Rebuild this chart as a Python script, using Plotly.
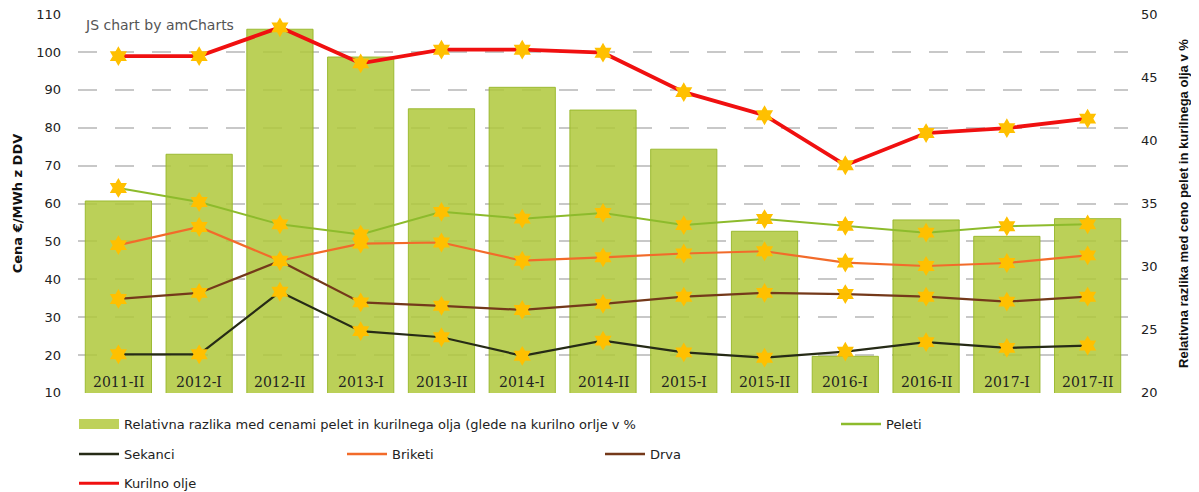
import plotly.graph_objects as go

categories = ["2011-II", "2012-I", "2012-II", "2013-I", "2013-II", "2014-I", "2014-II",
              "2015-I", "2015-II", "2016-I", "2016-II", "2017-I", "2017-II"]

relativna_razlika = [35.2, 38.9, 48.8, 46.6, 42.5, 44.2, 42.4, 39.3, 32.8, 22.9, 33.7, 32.4, 33.8]
peleti = [64.1, 60.4, 54.5, 51.8, 57.8, 56.0, 57.5, 54.3, 55.9, 54.1, 52.3, 54.0, 54.5]
sekanci = [20.2, 20.2, 36.7, 26.3, 24.7, 19.8, 23.8, 20.7, 19.3, 20.9, 23.4, 21.9, 22.5]
briketi = [49.0, 53.8, 44.9, 49.4, 49.7, 44.9, 45.8, 46.8, 47.4, 44.4, 43.5, 44.3, 46.3]
drva = [34.8, 36.4, 44.8, 33.9, 33.0, 31.9, 33.5, 35.4, 36.4, 36.1, 35.4, 34.1, 35.4]
kurilno_olje = [98.9, 98.9, 106.5, 97.0, 100.6, 100.6, 99.8, 89.4, 83.3, 70.1, 78.6, 79.9, 82.4]

left_ticks = list(range(10, 111, 10))
right_ticks = list(range(20, 51, 5))

BAR_NAME = "Relativna razlika med cenami pelet in kurilnega olja (glede na kurilno orlje v %"

# page body has an 8px default margin, so the figure is 8px smaller than the window
W, H = 1191, 484
STAR = "#FFC000"
BAR_FILL = "rgba(176,200,60,0.86)"

fig = go.Figure()

fig.add_trace(go.Bar(
    x=categories, y=relativna_razlika, yaxis="y", name=BAR_NAME, showlegend=False,
    marker=dict(color=BAR_FILL, line=dict(color="rgba(150,182,40,0.9)", width=1)),
))

line_series = [
    ("Peleti", peleti, "#8DBB2C", 2, "legend2"),
    ("Sekanci", sekanci, "#262B16", 2.2, "legend3"),
    ("Briketi", briketi, "#F26B2A", 2.2, "legend4"),
    ("Drva", drva, "#74391A", 2.2, "legend5"),
    ("Kurilno olje", kurilno_olje, "#F01010", 3.8, "legend6"),
]
for name, vals, color, width, lg in line_series:
    fig.add_trace(go.Scatter(
        x=categories, y=vals, yaxis="y2", name=name, mode="lines+markers",
        line=dict(color=color, width=width), showlegend=False,
        marker=dict(symbol="hexagram", size=15, color=STAR, line=dict(width=0)),
    ))

# legend-only entries (lines without markers, as in the reference legend)
fig.add_trace(go.Scatter(
    x=[None], y=[None], yaxis="y", name=BAR_NAME, mode="lines",
    line=dict(color="rgb(190,209,90)", width=18), legend="legend",
))
for name, vals, color, width, lg in line_series:
    fig.add_trace(go.Scatter(
        x=[None], y=[None], yaxis="y2", name=name, mode="lines",
        line=dict(color=color, width=3 if name == "Kurilno olje" else 2.5), legend=lg,
    ))

font_sans = "DejaVu Sans"
leg_common = dict(xref="container", yref="container", xanchor="left", yanchor="middle",
                  orientation="h", bgcolor="rgba(0,0,0,0)", itemwidth=40,
                  font=dict(family=font_sans, size=13, color="#222"))

def leg(xpx, ypx):
    d = dict(leg_common)
    d.update(x=xpx / W, y=1 - ypx / H)
    return d

annotations = [dict(
    text="JS chart by amCharts", xref="paper", yref="paper", x=0.005, y=0.972,
    xanchor="left", yanchor="middle", showarrow=False,
    font=dict(family=font_sans, size=14, color="#555"),
)]
for c in categories:
    annotations.append(dict(
        text=c, x=c, y=10, xref="x", yref="y2", xanchor="center", yanchor="bottom",
        showarrow=False, yshift=1,
        font=dict(family="DejaVu Serif", size=14, color="#222"),
    ))

fig.update_layout(
    width=W, height=H,
    margin=dict(l=70, r=71, t=5.5, b=99, pad=0, autoexpand=False),
    paper_bgcolor="white", plot_bgcolor="white",
    bargap=0.18,
    showlegend=True,
    font=dict(family=font_sans, size=13, color="#222"),
    xaxis=dict(
        type="category", range=[-0.5, 12.5], showgrid=False, showline=False, zeroline=False,
        ticks="", showticklabels=False, automargin=False,
    ),
    yaxis=dict(
        side="right", range=[19.994, 50.006], tickvals=right_ticks, showgrid=False, zeroline=False,
        showline=False, ticks="", ticklabelstandoff=12, automargin=False,
        ticklabeloverflow="allow",
        tickfont=dict(family=font_sans, size=13, color="#222"),
        title=dict(text="Relativna razlika med ceno pelet in kurilnega olja v %",
                   font=dict(family="Liberation Sans", size=13, color="#111", weight="bold"),
                   standoff=22),
    ),
    yaxis2=dict(
        overlaying="y", side="left", range=[9.98, 110.02], tickvals=left_ticks,
        showgrid=True, gridcolor="#C8C8C8", gridwidth=1.5, griddash="19px,18px",
        zeroline=False, showline=False, ticks="", ticklabelstandoff=16, automargin=False,
        ticklabeloverflow="allow",
        tickfont=dict(family=font_sans, size=13, color="#222"),
        title=dict(text="Cena €/MWh z DDV",
                   font=dict(family=font_sans, size=13, color="#111", weight="bold"),
                   standoff=10),
    ),
    legend=leg(66, 416),
    legend2=leg(828, 416),
    legend3=leg(66, 446),
    legend4=leg(334, 446),
    legend5=leg(592, 446),
    legend6=leg(66, 475.3),
    annotations=annotations,
)

fig.write_html("out.html")
